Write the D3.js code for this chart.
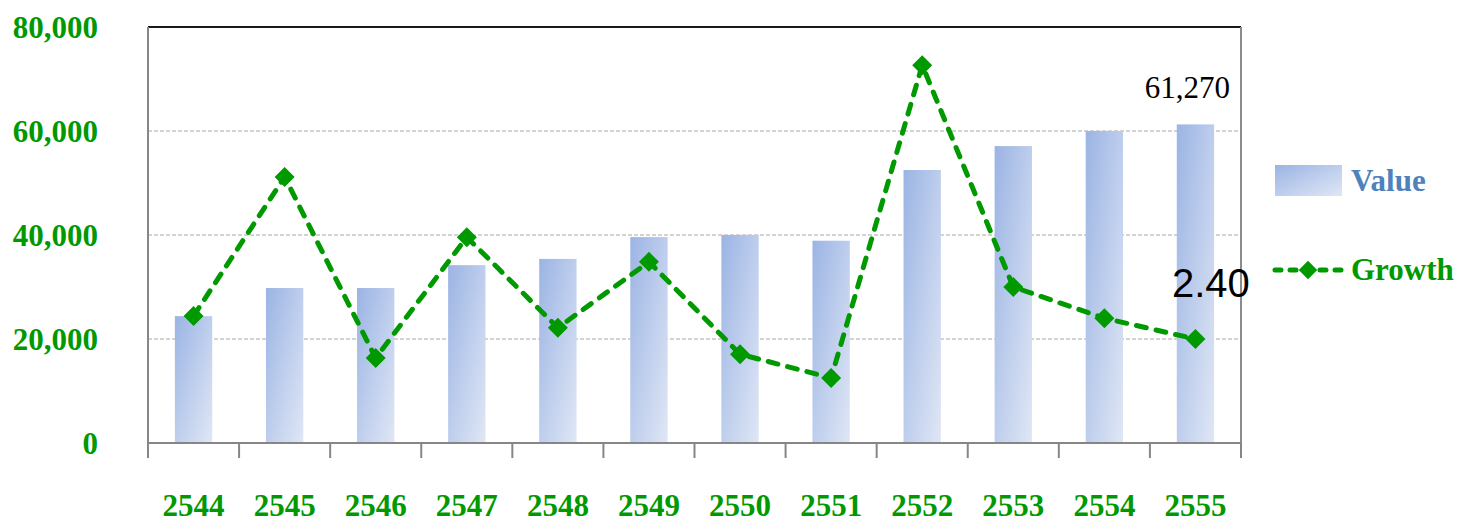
<!DOCTYPE html>
<meta charset="utf-8">
<head>
  <style>
    body { margin: 0; background: white; }
    .ylab { font-family: "Liberation Serif", serif; font-weight: bold; font-size: 31px; fill: #009900; }
    .xlab { font-family: "Liberation Serif", serif; font-weight: bold; font-size: 31px; fill: #009900; }
    .leg { font-family: "Liberation Serif", serif; font-weight: bold; font-size: 31px; }
  </style>
</head>
<script src="https://d3js.org/d3.v7.min.js"></script>
<div id="chart"></div>
<script>
// data
const years = ["2544", "2545", "2546", "2547", "2548", "2549", "2550", "2551", "2552", "2553", "2554", "2555"];
const values = [24400, 29800, 29800, 34200, 35400, 39600, 40000, 38900, 52500, 57100, 60000, 61270];
const growth = [2.93, 6.14, 1.96, 4.75, 2.66, 4.18, 2.05, 1.50, 8.72, 3.60, 2.88, 2.40];
const yTicks = [0, 20000, 40000, 60000, 80000];

const WIDTH = 1459, HEIGHT = 522;
const PL = 148, PR = 1241, PT = 27, PB = 443;
const GREEN = "#009900";

var svg = d3.select("#chart").append("svg")
  .attr("width", WIDTH)
  .attr("height", HEIGHT);

var defs = svg.append("defs");
var grad = defs.append("linearGradient")
  .attr("id", "barGrad")
  .attr("x1", 0).attr("y1", 0).attr("x2", 1).attr("y2", 1);
grad.append("stop").attr("offset", "0%").attr("stop-color", "#9BB4E4");
grad.append("stop").attr("offset", "100%").attr("stop-color", "#E0E7F5");

var x = d3.scaleBand()
  .domain(years)
  .range([PL, PR])
  .paddingInner(0.59)
  .paddingOuter(0.295);

var y = d3.scaleLinear().domain([0, 80000]).range([PB, PT]);
// secondary axis for growth (not drawn)
var y2 = d3.scaleLinear().domain([0, 9.6]).range([PB, PT]);

// gridlines
svg.append("g")
  .selectAll("line")
  .data(yTicks.filter(d => d > 0 && d < 80000))
  .enter().append("line")
  .attr("x1", PL).attr("x2", PR)
  .attr("y1", d => y(d)).attr("y2", d => y(d))
  .attr("stroke", "#A6A6A6")
  .attr("stroke-width", 1)
  .attr("stroke-dasharray", "4,2");

// bars
svg.append("g")
  .selectAll("rect")
  .data(values)
  .enter().append("rect")
  .attr("x", (d, i) => x(years[i]))
  .attr("y", d => y(d))
  .attr("width", x.bandwidth())
  .attr("height", d => y(0) - y(d))
  .attr("fill", "url(#barGrad)");

// plot frame
svg.append("line").attr("x1", PL).attr("x2", PR).attr("y1", PT).attr("y2", PT)
  .attr("stroke", "#1a1a1a").attr("stroke-width", 2);
svg.append("line").attr("x1", PR).attr("x2", PR).attr("y1", PT).attr("y2", PB)
  .attr("stroke", "#8c8c8c").attr("stroke-width", 2);
svg.append("line").attr("x1", PL).attr("x2", PL).attr("y1", PT).attr("y2", PB)
  .attr("stroke", "#868686").attr("stroke-width", 2);
svg.append("line").attr("x1", PL - 1).attr("x2", PR + 1).attr("y1", PB).attr("y2", PB)
  .attr("stroke", "#868686").attr("stroke-width", 2);

// category boundary ticks
svg.append("g")
  .selectAll("line")
  .data(d3.range(years.length + 1))
  .enter().append("line")
  .attr("x1", i => PL + i * (PR - PL) / years.length)
  .attr("x2", i => PL + i * (PR - PL) / years.length)
  .attr("y1", PB).attr("y2", PB + 15)
  .attr("stroke", "#868686").attr("stroke-width", 2);

// y labels
svg.append("g")
  .selectAll("text")
  .data(yTicks)
  .enter().append("text")
  .attr("class", "ylab")
  .attr("x", 98)
  .attr("y", d => y(d))
  .attr("dy", "0.35em")
  .attr("text-anchor", "end")
  .text(d => d3.format(",")(d));

// x labels
svg.append("g")
  .selectAll("text")
  .data(years)
  .enter().append("text")
  .attr("class", "xlab")
  .attr("x", d => x(d) + x.bandwidth() / 2)
  .attr("y", 516)
  .attr("text-anchor", "middle")
  .text(d => d);

// growth line
var cx = (d, i) => x(years[i]) + x.bandwidth() / 2;
var line = d3.line()
  .x(cx)
  .y(d => y2(d));

svg.append("path")
  .datum(growth)
  .attr("d", line)
  .attr("fill", "none")
  .attr("stroke", GREEN)
  .attr("stroke-width", 5)
  .attr("stroke-linecap", "round")
  .attr("stroke-dasharray", "10,10");

var diamond = d3.symbol().type(d3.symbolSquare).size(200);
svg.append("g")
  .selectAll("path")
  .data(growth)
  .enter().append("path")
  .attr("d", diamond)
  .attr("transform", (d, i) => `translate(${cx(d, i)},${y2(d)}) rotate(45)`)
  .attr("fill", GREEN);

// data labels
var last = years.length - 1;
svg.append("text")
  .attr("x", cx(values[last], last) - 8)
  .attr("y", 98)
  .attr("text-anchor", "middle")
  .style("font-family", "'Liberation Serif', serif")
  .style("font-size", "31px")
  .attr("fill", "#000")
  .text(d3.format(",")(values[last]));

svg.append("text")
  .attr("x", 1172)
  .attr("y", 297)
  .style("font-family", "'Liberation Sans', sans-serif")
  .style("font-size", "40px")
  .attr("fill", "#000")
  .text(growth[last].toFixed(2));

// legend
var leg = svg.append("g");
leg.append("rect")
  .attr("x", 1275).attr("y", 165)
  .attr("width", 67).attr("height", 31)
  .attr("fill", "url(#barGrad)");
leg.append("text")
  .attr("class", "leg")
  .attr("x", 1351).attr("y", 191)
  .attr("fill", "#4F81BD")
  .text("Value");

leg.append("line")
  .attr("x1", 1275).attr("x2", 1341)
  .attr("y1", 270).attr("y2", 270)
  .attr("stroke", GREEN)
  .attr("stroke-width", 5)
  .attr("stroke-linecap", "round")
  .attr("stroke-dasharray", "6,9");
leg.append("path")
  .attr("d", d3.symbol().type(d3.symbolSquare).size(170))
  .attr("transform", "translate(1308,270) rotate(45)")
  .attr("fill", GREEN);
leg.append("text")
  .attr("class", "leg")
  .attr("x", 1351).attr("y", 280)
  .attr("fill", GREEN)
  .text("Growth");
</script>
